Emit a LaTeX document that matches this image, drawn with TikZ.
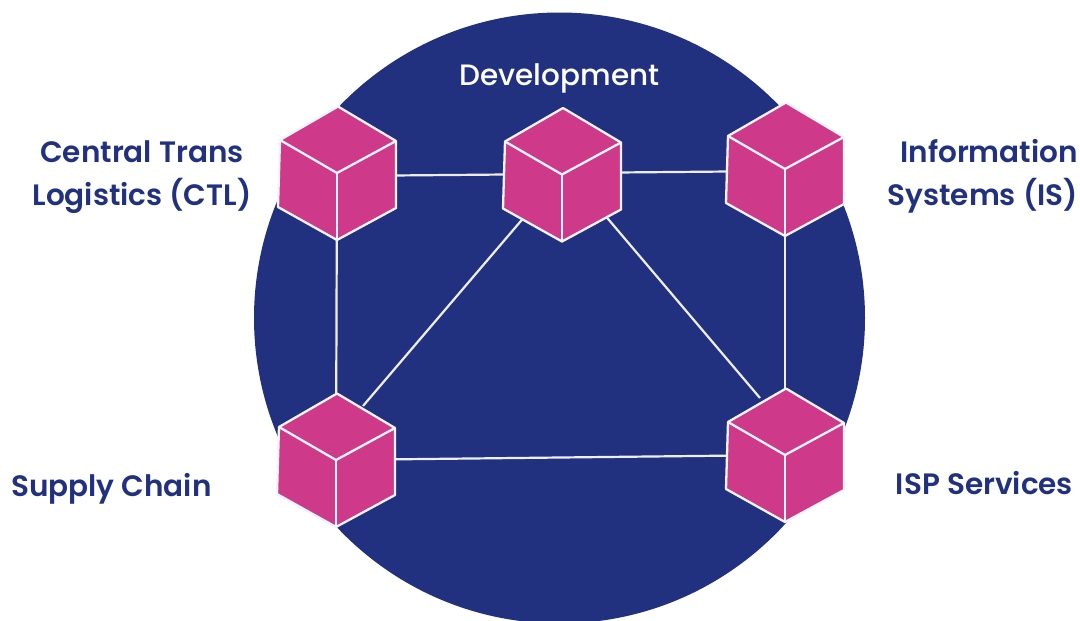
\documentclass[tikz,border=0pt]{standalone}
\usepackage{fontspec}
\setmainfont{Poppins SemiBold}
\definecolor{navy}{HTML}{22317F}
\definecolor{pink}{HTML}{CE398A}
\tikzset{
  x=1pt,y=-1pt,
  hub/.style={minimum width=118pt,minimum height=135pt,inner sep=0pt,outer sep=0pt},
  link/.style={draw=white!92!navy,line width=2.2pt},
  face/.style={fill=pink,draw=white!95!navy,line width=2.3pt,line join=round},
  lab/.style={text=navy,font=\fontsize{29.5}{43}\selectfont,align=center,inner sep=0pt}
}
\newcommand{\cubeat}[1]{%
  \begin{scope}[shift={(#1.center)}]
    \path[face] (1,-66.5) -- (59,-32) -- (59,35) -- (0,67) -- (-59,34) -- (-57,-33) -- cycle;
    \draw[face,fill=none] (-57,-33) -- (0,0) -- (59,-32);
    \draw[face,fill=none] (0,0) -- (0,67);
  \end{scope}}
\begin{document}
\begin{tikzpicture}
\useasboundingbox (0,0) rectangle (1080,621);
\begin{scope}
\clip (0,0) rectangle (1080,621);
\fill[navy] (559.5,318) circle[radius=305.5];
\end{scope}
\node[hub] (ctl) at (337,173) {};
\node[hub] (dev) at (562,174.5) {};
\node[hub] (is) at (785,169) {};
\node[hub] (sc) at (336,460) {};
\node[hub] (isp) at (785,455) {};
\draw[link] ([yshift=-3pt]ctl.center) -- ([yshift=0.5pt]dev.center);
\draw[link] ([yshift=1.5pt]dev.center) -- ([yshift=-2pt]is.center);
\draw[link] (ctl.center) -- (sc.center);
\draw[link] (is.center) -- (isp.center);
\draw[link] (sc.center) -- (isp.center);
\draw[link] ([xshift=-39pt,yshift=-44pt]dev.center) -- ([xshift=27pt,yshift=54pt]sc.center);
\draw[link] ([xshift=44pt,yshift=-42pt]dev.center) -- ([xshift=-25pt,yshift=57pt]isp.center);
\cubeat{ctl}\cubeat{dev}\cubeat{is}\cubeat{sc}\cubeat{isp}
\node[lab,text=white,font=\fontspec{Poppins Medium}\fontsize{29.5}{43}\selectfont] (tdev) at (559.5,78.5) {Development};
\node[lab] (tctl) at (142,177) {Central Trans\\Logistics (CTL)};
\node[lab,align=right,anchor=east] (tis) at (1078,176.5) {Information\\Systems (IS)};
\node[lab] (tsc) at (111.5,489) {Supply Chain};
\node[lab] (tisp) at (984.5,483.5) {ISP Services};
\end{tikzpicture}
\end{document}
